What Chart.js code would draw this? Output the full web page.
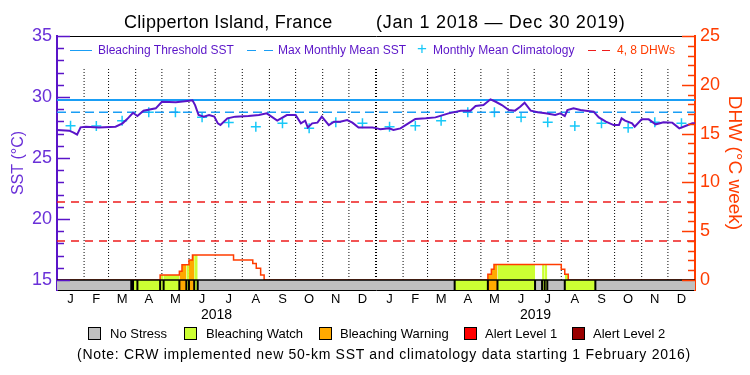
<!DOCTYPE html>
<html>
<head>
<meta charset="utf-8">
<script src="https://cdn.jsdelivr.net/npm/chart.js@4"></script>
<style>
  body { margin: 0; background: #fff; }
  #wrap { position: relative; width: 750px; height: 375px; font-family: "Liberation Sans", Arial, sans-serif; }
  #wrap canvas { position: absolute; left: 0; top: 0; }
  .t { position: absolute; white-space: nowrap; line-height: 1; }
  .leg { font-size: 12px; color: #5a14c8; }
  .box { position: absolute; width: 13px; height: 13px; border: 1px solid #000; box-sizing: border-box; }
  .sl { font-size: 13px; color: #000; }
</style>
</head>
<body>
<div id="wrap">
  <canvas id="c" width="750" height="375"></canvas>

  <div class="t" style="left:124px;top:13px;font-size:18px;letter-spacing:0.3px;">Clipperton Island, France</div>
  <div class="t" style="left:376px;top:13px;font-size:18px;letter-spacing:0.7px;">(Jan 1 2018 &mdash; Dec 30 2019)</div>

  <!-- legend inside plot -->
  <div class="t" style="left:70px;top:50px;width:22px;border-top:1.5px solid #1a9ef5;"></div>
  <div class="t leg" style="left:98px;top:44px;">Bleaching Threshold SST</div>
  <div class="t" style="left:247px;top:50px;width:9px;border-top:1.5px solid #1a9ef5;"></div>
  <div class="t" style="left:264px;top:50px;width:9px;border-top:1.5px solid #1a9ef5;"></div>
  <div class="t leg" style="left:278px;top:44px;">Max Monthly Mean SST</div>
  <div class="t" style="left:417px;top:40px;font-size:17px;color:#18c8f8;">+</div>
  <div class="t leg" style="left:433px;top:44px;">Monthly Mean Climatology</div>
  <div class="t" style="left:588px;top:50px;width:8px;border-top:1.5px solid #ee1c1c;"></div>
  <div class="t" style="left:602px;top:50px;width:8px;border-top:1.5px solid #ee1c1c;"></div>
  <div class="t leg" style="left:617px;top:44px;color:#ff3c00;">4, 8 DHWs</div>

  <!-- status legend -->
  <div class="box" style="left:88px;top:327px;background:#c0c0c0;"></div>
  <div class="t sl" style="left:110px;top:327px;">No Stress</div>
  <div class="box" style="left:184px;top:327px;background:#ccff33;"></div>
  <div class="t sl" style="left:206px;top:327px;">Bleaching Watch</div>
  <div class="box" style="left:319px;top:327px;background:#ffaa00;"></div>
  <div class="t sl" style="left:340px;top:327px;">Bleaching Warning</div>
  <div class="box" style="left:464px;top:327px;background:#ff0000;"></div>
  <div class="t sl" style="left:485px;top:327px;">Alert Level 1</div>
  <div class="box" style="left:572px;top:327px;background:#990000;"></div>
  <div class="t sl" style="left:593px;top:327px;">Alert Level 2</div>
  <div class="t" style="left:0;width:768px;text-align:center;top:347px;font-size:14px;letter-spacing:0.7px;">(Note: CRW implemented new 50-km SST and climatology data starting 1 February 2016)</div>
</div>

<script>
// x axis is "days since Jan 1 2018"
const monthLen = [31,28,31,30,31,30,31,31,30,31,30,31, 31,28,31,30,31,30,31,31,30,31,30,31];
const monthLbl = ['J','F','M','A','M','J','J','A','S','O','N','D','J','F','M','A','M','J','J','A','S','O','N','D'];
const yearLbl = ['2018', '2019'];

// daily SST
const sstDay = [0,14,19,23,27,33,48,67,75,80,87,92,99,113,120,136,149,155,158,162,168,174,180,184,187,195,204,219,231,240,252,263,273,279,284,287,292,298,303,311,317,324,332,338,345,361,365,370,380,385,393,402,410,422,433,448,462,473,479,488,496,502,509,517,524,530,535,542,550,559,570,576,581,584,591,599,605,614,620,628,637,643,646,650,658,661,669,677,685,694,704,712,719,727,730];
const sstVal = [27.30,27.24,27.08,26.91,27.51,27.57,27.50,27.57,27.84,28.17,28.71,28.44,28.88,29.07,29.61,29.56,29.67,29.73,29.34,28.52,28.39,28.52,28.39,27.84,27.70,28.25,28.39,28.44,28.52,28.66,28.06,28.52,28.52,27.84,28.06,27.50,27.84,27.90,28.39,27.70,27.98,27.98,28.11,27.90,27.50,27.50,27.45,27.35,27.43,27.30,27.43,27.84,28.20,28.25,28.33,28.66,28.88,28.88,29.26,29.34,29.81,29.61,29.34,28.93,28.88,29.20,29.53,28.88,28.75,28.66,28.52,28.66,28.44,28.93,29.07,28.93,28.88,28.80,28.33,27.98,27.70,27.70,28.25,28.06,27.84,27.57,28.17,28.17,27.76,27.93,27.90,27.43,27.62,27.84,27.84];

// monthly mean climatology, one per month
const climVal = [27.65,27.62,28.06,28.75,28.75,28.33,27.90,27.57,27.84,27.43,27.93,27.84,
                 27.57,27.65,28.06,28.75,28.75,28.33,27.93,27.62,27.84,27.48,27.93,27.84];
const mmm = 28.75;
const threshold = 29.75;
const dhwLevels = [4, 8];

// degree heating weeks, step changes
const dhwDay = [0,118,140,143,151,155,202,224,228,233,237,493,497,500,577,581,585,730];
const dhwVal = [0,0.5,0.9,1.55,2.05,2.55,2.05,1.7,1.2,0.5,0,0.6,1.1,1.6,1.1,0.6,0,0];

// stress level: 0 none, 1 watch, 2 warning
const statStart = [0,85,87,92,118,122,140,148,151,157,161,455,493,504,547,555,558,561,581,616];
const statLevel = [0,1,1,1,1,1,2,1,2,1,0,1,2,1,0,1,1,0,1,0];

const SST_MIN = 14.18, SST_MAX = 35, DHW_MIN = -1.025, DHW_MAX = 25;
const END = 730;
const statColor = ['#c0c0c0', '#ccff33', '#ffaa00', '#ff0000', '#990000'];
const purple = '#5a14c8', blue = '#1a9ef5', red = '#ff3c00';

const monthEdge = [0];
monthLen.forEach(n => monthEdge.push(monthEdge[monthEdge.length - 1] + n));
const monthMid = monthLen.map((n, i) => monthEdge[i] + n / 2);
const yearMid = [182.5, 547.5];

function dhwAt(d) {
  let v = 0;
  dhwDay.forEach((x, i) => { if (x <= d) v = dhwVal[i]; });
  return v;
}

const datasets = [];
const plain = { pointRadius: 0, tension: 0, fill: false };

datasets.push({ ...plain, data: sstDay.map((d, i) => ({ x: d, y: sstVal[i] })), borderColor: purple, borderWidth: 2, yAxisID: 'y' });
datasets.push({ ...plain, data: [{ x: 0, y: threshold }, { x: END, y: threshold }], borderColor: blue, borderWidth: 2, yAxisID: 'y' });
datasets.push({ ...plain, data: [{ x: 0, y: mmm }, { x: END, y: mmm }], borderColor: blue, borderWidth: 1.5, borderDash: [9, 5], yAxisID: 'y' });
datasets.push({ data: climVal.map((v, i) => ({ x: monthMid[i], y: v })), showLine: false, pointStyle: 'cross', pointRadius: 5, pointBorderWidth: 1.5, pointBorderColor: '#18c8f8', yAxisID: 'y' });
dhwLevels.forEach(l => datasets.push({ ...plain, data: [{ x: 0, y: l }, { x: END, y: l }], borderColor: '#ee1c1c', borderWidth: 1.5, borderDash: [8, 6], yAxisID: 'dhw' }));

// status bar outline
const sep = [];
statStart.slice(1).forEach(b => { sep.push({ x: b, y: DHW_MIN }, { x: b, y: 0 }, { x: b, y: null }); });
datasets.push({ ...plain, data: sep, borderColor: '#000', borderWidth: 2, spanGaps: false, yAxisID: 'dhw' });
datasets.push({ ...plain, data: [{ x: 0, y: 0 }, { x: END, y: 0 }], borderColor: '#000', borderWidth: 1.5, yAxisID: 'dhw' });
statStart.forEach((s, i) => {
  const e = i + 1 < statStart.length ? statStart[i + 1] : END;
  datasets.push({ ...plain, data: [{ x: s, y: 0 }, { x: e, y: 0 }], borderColor: 'transparent', borderWidth: 0, backgroundColor: statColor[statLevel[i]], fill: { value: DHW_MIN }, yAxisID: 'dhw' });
});

// DHW line (value holds until the next change)
datasets.push({ ...plain, data: dhwDay.map((d, i) => ({ x: d, y: dhwVal[i] })), stepped: 'before', borderColor: red, borderWidth: 1.5, yAxisID: 'dhw' });

// DHW area coloured by stress level
statStart.forEach((s, i) => {
  if (!statLevel[i]) return;
  const e = i + 1 < statStart.length ? statStart[i + 1] : END;
  const pts = [{ x: s, y: dhwAt(s) }];
  dhwDay.forEach((d, j) => { if (d > s && d < e) pts.push({ x: d, y: dhwVal[j] }); });
  pts.push({ x: e, y: dhwAt(e - 0.01) });
  datasets.push({ ...plain, data: pts, stepped: 'before', borderColor: 'transparent', borderWidth: 0, backgroundColor: statColor[statLevel[i]], fill: { value: 0 }, yAxisID: 'dhw' });
});

// dotted month separators
monthEdge.slice(1, -1).forEach((m, i) => {
  datasets.push({ ...plain, data: [{ x: m, y: 15 }, { x: m, y: 32.46 }], borderColor: '#000', borderWidth: i === 11 ? 2 : 1, borderDash: [1, 2], yAxisID: 'y' });
});

const innerTicks = {
  id: 'innerTicks',
  afterDraw(chart) {
    const ctx = chart.ctx;
    const a = chart.chartArea;
    ctx.save();
    ctx.lineWidth = 1.5;
    const ys = chart.scales.y, ds = chart.scales.dhw;
    ctx.strokeStyle = purple;
    for (let v = 15; v <= 35; v++) {
      const p = Math.round(ys.getPixelForValue(v)) + 0.5;
      ctx.beginPath(); ctx.moveTo(a.left, p); ctx.lineTo(a.left + (v % 5 ? 7 : 13), p); ctx.stroke();
    }
    ctx.strokeStyle = red;
    for (let v = 0; v <= 25; v++) {
      const p = Math.round(ds.getPixelForValue(v)) + 0.5;
      ctx.beginPath(); ctx.moveTo(a.right, p); ctx.lineTo(a.right - (v % 5 ? 7 : 13), p); ctx.stroke();
    }
    ctx.restore();
  }
};

const noGrid = { drawOnChartArea: false, drawTicks: false };
const font = { family: '"Liberation Sans", Arial, sans-serif' };

new Chart(document.getElementById('c'), {
  type: 'line',
  data: { datasets },
  plugins: [innerTicks],
  options: {
    responsive: false,
    animation: false,
    layout: { padding: { top: 36, left: 0, right: 0, bottom: 0 } },
    plugins: { legend: { display: false }, tooltip: { enabled: false } },
    scales: {
      x: {
        type: 'linear', min: 0, max: END, position: 'bottom',
        grid: noGrid, border: { color: '#000', width: 1 },
        afterBuildTicks: s => { s.ticks = monthMid.map(v => ({ value: v })); },
        afterFit: s => { s.height = 16; },
        ticks: { autoSkip: false, maxRotation: 0, padding: 2, color: '#000', font: { ...font, size: 13 }, callback: (v, i) => monthLbl[i] }
      },
      xYear: {
        type: 'linear', min: 0, max: END, position: 'bottom',
        grid: noGrid, border: { display: false },
        afterBuildTicks: s => { s.ticks = yearMid.map(v => ({ value: v })); },
        afterFit: s => { s.height = 69; },
        ticks: { autoSkip: false, maxRotation: 0, padding: 1, color: '#000', font: { ...font, size: 14 }, callback: (v, i) => yearLbl[i] }
      },
      xTop: {
        type: 'linear', min: 0, max: END, position: 'top',
        grid: noGrid, border: { color: '#000', width: 1 },
        ticks: { display: false },
        afterFit: s => { s.height = 0; }
      },
      y: {
        type: 'linear', min: SST_MIN, max: SST_MAX, position: 'left',
        grid: noGrid, border: { color: purple, width: 2 },
        afterBuildTicks: s => { s.ticks = [15, 20, 25, 30, 35].map(v => ({ value: v })); },
        afterFit: s => { s.width = 57; },
        ticks: { padding: 5, color: '#6a30d8', font: { ...font, size: 18 } },
        title: { display: true, text: 'SST (°C)', color: '#6a30d8', font: { ...font, size: 16 }, padding: { top: 9, bottom: 0 } }
      },
      dhw: {
        type: 'linear', min: DHW_MIN, max: DHW_MAX, position: 'right',
        grid: noGrid, border: { color: red, width: 2 },
        afterBuildTicks: s => { s.ticks = [0, 5, 10, 15, 20, 25].map(v => ({ value: v })); },
        afterFit: s => { s.width = 55; },
        ticks: { padding: 5, color: red, font: { ...font, size: 18 } },
        title: { display: true, text: 'DHW (°C week)', color: red, font: { ...font, size: 19 }, padding: { top: 4, bottom: 0 } }
      }
    }
  }
});
</script>
</body>
</html>
